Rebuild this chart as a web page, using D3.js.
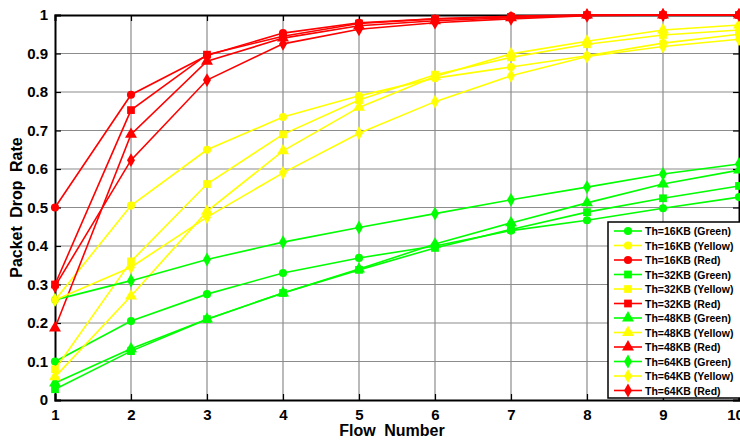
<!DOCTYPE html>
<html><head><meta charset="utf-8">
<script src="https://cdn.jsdelivr.net/npm/d3@7"></script>
<style>body{margin:0;background:#fff}svg{display:block}text{font-family:"Liberation Sans",Arial,sans-serif;font-weight:bold}</style>
</head><body><svg id="c" width="740" height="441"></svg>
<script>
const flows = [1,2,3,4,5,6,7,8,9,10];
const xTicks = [1,2,3,4,5,6,7,8,9,10];
const yTicks = [0,0.1,0.2,0.3,0.4,0.5,0.6,0.7,0.8,0.9,1];
const seriesNames = ["Th=16KB (Green)","Th=16KB (Yellow)","Th=16KB (Red)","Th=32KB (Green)","Th=32KB (Yellow)","Th=32KB (Red)","Th=48KB (Green)","Th=48KB (Yellow)","Th=48KB (Red)","Th=64KB (Green)","Th=64KB (Yellow)","Th=64KB (Red)"];
const seriesColors = ["#00ff00","#ffff00","#ff0000","#00ff00","#ffff00","#ff0000","#00ff00","#ffff00","#ff0000","#00ff00","#ffff00","#ff0000"];
const seriesMarkers = ["circle","circle","circle","square","square","square","triangle","triangle","triangle","diamond","diamond","diamond"];
const g16 = [0.10,0.205,0.275,0.33,0.369,0.40,0.44,0.467,0.498,0.527];
const y16 = [0.26,0.505,0.65,0.735,0.79,0.836,0.865,0.894,0.927,0.95];
const r16 = [0.50,0.793,0.895,0.953,0.98,0.99,0.997,1.0,1.0,1.0];
const g32 = [0.028,0.127,0.21,0.278,0.338,0.395,0.443,0.488,0.524,0.556];
const y32 = [0.08,0.36,0.561,0.69,0.779,0.845,0.89,0.924,0.948,0.961];
const r32 = [0.30,0.753,0.897,0.945,0.978,0.99,0.995,1.0,1.0,1.0];
const g48 = [0.044,0.133,0.21,0.278,0.34,0.405,0.46,0.512,0.561,0.597];
const y48 = [0.06,0.27,0.49,0.647,0.76,0.84,0.899,0.932,0.961,0.974];
const r48 = [0.187,0.69,0.88,0.94,0.972,0.985,0.993,1.0,1.0,1.0];
const g64 = [0.26,0.31,0.365,0.41,0.448,0.484,0.52,0.553,0.587,0.613];
const y64 = [0.26,0.345,0.475,0.59,0.693,0.775,0.842,0.892,0.918,0.937];
const r64 = [0.295,0.623,0.831,0.925,0.963,0.98,0.99,0.998,1.0,1.0];
const seriesValues = [g16,y16,r16,g32,y32,r32,g48,y48,r48,g64,y64,r64];

const svg = d3.select("#c");
const L=55,R=739,T=15,B=400;
const x = d3.scaleLinear().domain([1,10]).range([L,R]);
const y = d3.scaleLinear().domain([0,1]).range([B,T]);

// grid
svg.append("g").selectAll("line").data(xTicks.slice(1,-1)).join("line")
  .attr("x1",d=>x(d)).attr("x2",d=>x(d)).attr("y1",T).attr("y2",B)
  .attr("stroke","#8c8c8c").attr("stroke-width",1.2);
svg.append("g").selectAll("line").data(yTicks.slice(1,-1)).join("line")
  .attr("y1",d=>y(d)).attr("y2",d=>y(d)).attr("x1",L).attr("x2",R)
  .attr("stroke","#8c8c8c").attr("stroke-width",1.2);

// axes
const fmt = d => (d===0||d===1)? String(d) : d.toFixed(1);
const ax = svg.append("g").attr("transform",`translate(0,${B})`)
  .call(d3.axisBottom(x).tickValues(xTicks).tickSize(-6).tickPadding(9).tickFormat(d3.format("d")));
const ay = svg.append("g").attr("transform",`translate(${L},0)`)
  .call(d3.axisLeft(y).tickValues(yTicks).tickSize(-6).tickPadding(7).tickFormat(fmt));
const axT = svg.append("g").attr("transform",`translate(0,${T})`)
  .call(d3.axisTop(x).tickValues(xTicks).tickSize(-6).tickFormat(""));
const ayR = svg.append("g").attr("transform",`translate(${R},0)`)
  .call(d3.axisRight(y).tickValues(yTicks).tickSize(-6).tickFormat(""));
[ax,ay,axT,ayR].forEach(a=>{
  a.select(".domain").attr("stroke","#000").attr("stroke-width",2);
  a.selectAll(".tick line").attr("stroke","#000").attr("stroke-width",1.2);
  a.selectAll("text").attr("fill","#000").style("font-size","15px").style("font-weight","bold");
});
// last x tick label sits at the window edge, as in the reference; nudge it so "10" reads
ax.selectAll(".tick text").filter(d=>d===10).attr("dx","-4px");

// series
const symType = {circle:d3.symbolCircle,square:d3.symbolSquare,triangle:d3.symbolTriangle,diamond:d3.symbolDiamond};
const symSize = {circle:52,square:60,triangle:62,diamond:55};
const line = d3.line().x((d,i)=>x(flows[i])).y(d=>y(d));
seriesValues.forEach((vals,s)=>{
  const g = svg.append("g");
  g.append("path").datum(vals).attr("d",line).attr("fill","none")
    .attr("stroke",seriesColors[s]).attr("stroke-width",1.6);
  g.selectAll("path.m").data(vals).join("path").attr("class","m")
    .attr("transform",(d,i)=>`translate(${x(flows[i])},${y(d)})`)
    .attr("d",d3.symbol().type(symType[seriesMarkers[s]]).size(symSize[seriesMarkers[s]]))
    .attr("fill",seriesColors[s]);
});

// labels
svg.append("text").attr("x",(L+R)/2-5).attr("y",436).attr("text-anchor","middle")
  .style("font-size","16px").style("word-spacing","4px").text("Flow Number");
svg.append("text").attr("transform",`translate(22,${(T+B)/2}) rotate(-90)`).attr("text-anchor","middle")
  .style("font-size","16px").style("word-spacing","4px").text("Packet Drop Rate");

// legend
const lg = svg.append("g");
const lx=608, ly=222, lw=140, lh=176, step=14.5;
lg.append("rect").attr("x",lx).attr("y",ly).attr("width",lw).attr("height",lh)
  .attr("fill","#fff").attr("stroke","#000").attr("stroke-width",1.5);
seriesNames.forEach((n,i)=>{
  const cy = ly+9+i*step;
  lg.append("line").attr("x1",614).attr("x2",642).attr("y1",cy).attr("y2",cy)
    .attr("stroke",seriesColors[i]).attr("stroke-width",1.6);
  lg.append("path").attr("transform",`translate(628,${cy})`)
    .attr("d",d3.symbol().type(symType[seriesMarkers[i]]).size(symSize[seriesMarkers[i]]))
    .attr("fill",seriesColors[i]);
  lg.append("text").attr("x",645).attr("y",cy+4).style("font-size","10.5px").text(n);
});
</script></body></html>
